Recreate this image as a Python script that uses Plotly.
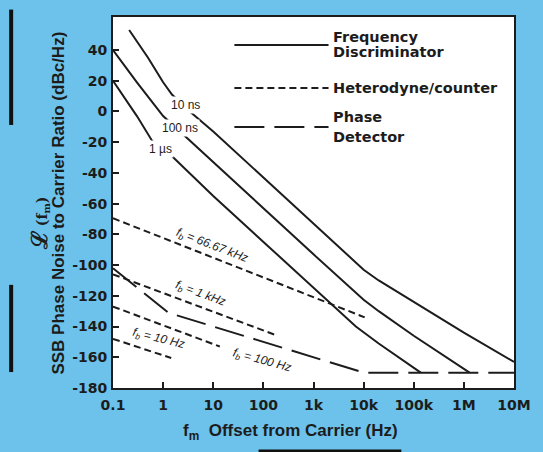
import math
import plotly.graph_objects as go

# ---------------- data ----------------
# Frequency discriminator curves
freq_10ns = [0.21, 0.5, 1, 1.5, 3.4, 10, 100, 1e3, 1e4, 2e4, 1e5, 1e6, 1e7]
ssb_10ns = [53, 35, 19, 11, 0, -13, -43, -73, -103, -110, -124, -144, -163]

freq_100ns = [0.1, 0.3, 1, 2.7, 10, 100, 1e3, 1e4, 2e4, 1e5, 1.3e6]
ssb_100ns = [40, 19, -3, -16, -33, -63, -93, -122.5, -130, -146, -170]

freq_1us = [0.1, 0.3, 0.6, 1.6, 10, 100, 1e3, 7e3, 2e4, 1.38e5]
ssb_1us = [20, -3, -19, -30, -55, -85, -115, -140, -151, -170]

# Heterodyne / counter lines
freq_fb66k = [0.1, 10500]
ssb_fb66k = [-69.5, -134]
freq_fb1k = [0.1, 175]
ssb_fb1k = [-106, -145.5]
freq_fb100 = [0.1, 13.5]
ssb_fb100 = [-127, -153]
freq_fb10 = [0.1, 1.45]
ssb_fb10 = [-148, -160.5]

# Phase detector
freq_pd = [0.1, 1.27, 1e4, 1e7]
ssb_pd = [-102, -131, -170, -170]

# Axis ticks
x_tickvals = [0.1, 1, 10, 100, 1e3, 1e4, 1e5, 1e6, 1e7]
x_ticktext = ["0.1", "1", "10", "100", "1k", "10k", "100k", "1M", "10M"]
y_tickvals = list(range(-180, 41, 20))
y_ticktext = [str(v) for v in y_tickvals]

# Curve labels
disc_labels = [("10 ns", 2.84, 4.3), ("100 ns", 2.17, -10.7), ("1 \u00b5s", 0.89, -24.4)]
het_labels = [
    ("f<sub>b</sub> = 66.67 kHz", 9.5, -87.5, 21),
    ("f<sub>b</sub> = 1 kHz", 5.5, -119.0, 20),
    ("f<sub>b</sub> = 10 Hz", 0.81, -148.0, 14),
    ("f<sub>b</sub> = 100 Hz", 96, -162.4, 15),
]

# ---------------- styling ----------------
INK = "#1c1c1c"
BLUE = "#6cc2ea"
SHORT_DASH = "7px,4px"
LONG_DASH = "30px,10px"

fig = go.Figure()


def add_line(x, y, dash):
    fig.add_trace(go.Scatter(x=x, y=y, mode="lines",
                             line=dict(color=INK, width=2, dash=dash),
                             showlegend=False, hoverinfo="skip"))


add_line(freq_10ns, ssb_10ns, "solid")
add_line(freq_100ns, ssb_100ns, "solid")
add_line(freq_1us, ssb_1us, "solid")
add_line(freq_fb66k, ssb_fb66k, SHORT_DASH)
add_line(freq_fb1k, ssb_fb1k, SHORT_DASH)
add_line(freq_fb100, ssb_fb100, SHORT_DASH)
add_line(freq_fb10, ssb_fb10, SHORT_DASH)
add_line(freq_pd, ssb_pd, LONG_DASH)

annotations = []
for txt, x, y in disc_labels:
    annotations.append(dict(x=math.log10(x), y=y, xref="x", yref="y", text=txt,
                            showarrow=False, bgcolor="white", borderpad=1,
                            xanchor="center", yanchor="middle",
                            font=dict(family="Liberation Sans", size=12, color=INK)))
for txt, x, y, ang in het_labels:
    annotations.append(dict(x=math.log10(x), y=y, xref="x", yref="y",
                            text="<i>" + txt + "</i>", textangle=ang,
                            showarrow=False, xanchor="center", yanchor="middle",
                            font=dict(family="Liberation Sans", size=12, color=INK)))

# legend (drawn manually)
LEG_FONT = dict(family="DejaVu Sans", size=14.5, color=INK, weight="bold")
leg_x0, leg_x1, leg_tx = 0.3027, 0.5375, 0.5448
legend_rows = [("solid", 0.9245, [("Frequency", 0.9460), ("Discriminator", 0.9060)]),
               (SHORT_DASH, 0.8086, [("Heterodyne/counter", 0.8086)]),
               (LONG_DASH, 0.7035, [("Phase", 0.7315), ("Detector", 0.6765)])]
shapes = []
for dash, ly, texts in legend_rows:
    shapes.append(dict(type="line", xref="paper", yref="paper", x0=leg_x0, x1=leg_x1,
                       y0=ly, y1=ly, line=dict(color=INK, width=2, dash=dash)))
    for t, ty in texts:
        annotations.append(dict(x=leg_tx, y=ty, xref="paper", yref="paper", text=t,
                                showarrow=False, xanchor="left", yanchor="middle",
                                font=LEG_FONT))

# axis titles
TITLE_FONT = dict(family="Liberation Sans", size=17, color=INK, weight="bold")
annotations.append(dict(x=-0.1356, y=0.4987, xref="paper", yref="paper",
                        text="SSB Phase Noise to Carrier Ratio (dBc/Hz)",
                        textangle=-90, showarrow=False, xanchor="center", yanchor="middle",
                        font=TITLE_FONT))
annotations.append(dict(x=-0.184, y=0.445, xref="paper", yref="paper",
                        text="<span style='font-size:22px'>\u2112</span> (f<sub>m</sub>)",
                        textangle=-90, showarrow=False, xanchor="center", yanchor="middle",
                        font=dict(family="DejaVu Serif", size=14, color=INK, weight="bold")))
annotations.append(dict(x=0.443, y=-0.118, xref="paper", yref="paper",
                        text="f<sub>m</sub>  Offset from Carrier (Hz)",
                        showarrow=False, xanchor="center", yanchor="middle",
                        font=TITLE_FONT))

# scan artefacts at the edges
shapes.append(dict(type="rect", xref="paper", yref="paper", x0=-0.259, x1=-0.249,
                   y0=0.709, y1=1.02, fillcolor="#111", line=dict(width=0)))
shapes.append(dict(type="rect", xref="paper", yref="paper", x0=-0.259, x1=-0.249,
                   y0=0.043, y1=0.278, fillcolor="#111", line=dict(width=0)))
shapes.append(dict(type="rect", xref="paper", yref="paper", x0=0.363, x1=0.719,
                   y0=-0.1725, y1=-0.1655, fillcolor="#111", line=dict(width=0)))

TICK_FONT = dict(family="DejaVu Sans", size=14, color=INK, weight="bold")
fig.update_layout(
    width=543, height=452, autosize=False,
    margin=dict(l=113, r=17, t=17, b=64, pad=0),
    paper_bgcolor=BLUE, plot_bgcolor="white",
    showlegend=False,
    annotations=annotations, shapes=shapes,
    xaxis=dict(type="log", range=[-1, 7], tickvals=x_tickvals, ticktext=x_ticktext,
               ticks="inside", ticklen=6, tickwidth=1.5, tickcolor=INK,
               showgrid=False, zeroline=False, showline=True, mirror=True,
               linecolor=INK, linewidth=2, tickfont=TICK_FONT, ticklabelstandoff=3),
    yaxis=dict(range=[-180, 61.5], tickvals=y_tickvals, ticktext=y_ticktext,
               ticks="inside", ticklen=6, tickwidth=1.5, tickcolor=INK,
               showgrid=False, zeroline=False, showline=True, mirror=True,
               linecolor=INK, linewidth=2, tickfont=TICK_FONT, ticklabelstandoff=1),
)

fig.write_html("out.html",
               config={"displayModeBar": False},
               post_script="document.body.style.margin='0';"
                           "document.body.style.background='" + BLUE + "';")
